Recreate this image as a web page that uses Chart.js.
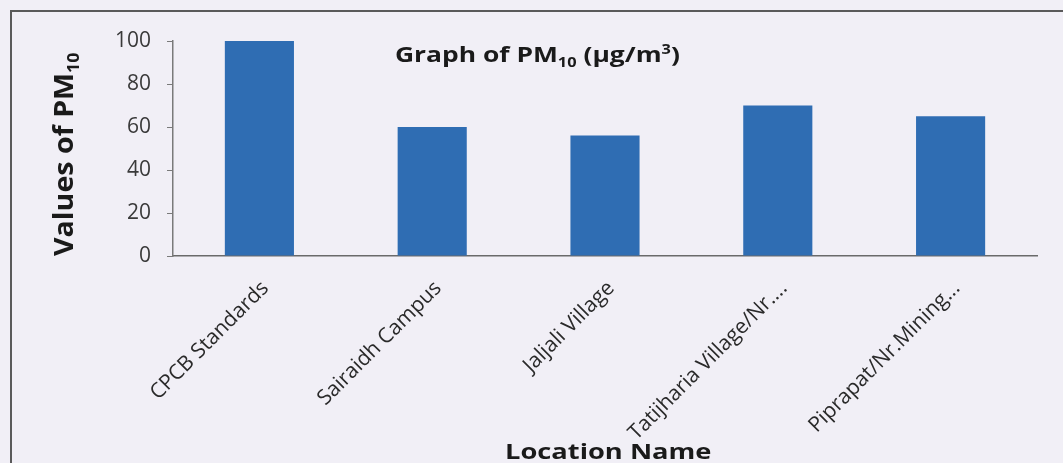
<!DOCTYPE html>
<html>
<head>
<meta charset="utf-8">
<script src="https://cdn.jsdelivr.net/npm/chart.js@4.4.1/dist/chart.umd.min.js"></script>
<style>
    html, body {
        margin: 0;
        padding: 0;
        background: #f1eff6;
    }
    #wrap {
        position: relative;
        width: 1063px;
        height: 463px;
        overflow: hidden;
        font-family: "Open Sans", sans-serif;
    }
    #frame {
        position: absolute;
        left: 10px;
        top: 10px;
        width: 1070px;
        height: 470px;
        border-left: 2px solid #5a5a5a;
        border-top: 2px solid #5a5a5a;
    }
    .txt {
        position: absolute;
        font-weight: 700;
        color: #1a1a1a;
        white-space: nowrap;
        transform-origin: left top;
    }
    .txt sub, .txt sup {
        font-size: 62%;
        line-height: 0;
    }
    #title {
        left: 395px;
        top: 38px;
        font-size: 22px;
        transform: scaleX(1.2);
    }
    #ytitle {
        left: 45px;
        top: 256px;
        font-size: 26px;
        transform: rotate(-90deg) scaleX(1.1);
    }
    #xtitle {
        left: 505px;
        top: 435px;
        font-size: 22px;
        transform: scaleX(1.24);
    }
</style>
</head>
<body>
<div id="wrap">
    <canvas id="chart" width="1063" height="463"></canvas>
    <div id="frame"></div>
    <div class="txt" id="title">Graph of PM<sub>10</sub> (&micro;g/m<sup>3</sup>)</div>
    <div class="txt" id="ytitle">Values of PM<sub>10</sub></div>
    <div class="txt" id="xtitle">Location Name</div>
</div>
<script>
    // PM10 values
    const locations = ['CPCB Standards', 'Sairaidh Campus', 'Jaljali Village', 'Tatijharia Village/Nr....', 'Piprapat/Nr.Mining...'];
    const pm10 = [100, 60, 56, 70, 65];
    const yTicks = [0, 20, 40, 60, 80, 100];

    new Chart(document.getElementById('chart'), {
        type: 'bar',
        data: {
            labels: locations,
            datasets: [{
                label: 'PM10',
                data: pm10,
                backgroundColor: '#2f6db3',
                borderWidth: 0,
                barPercentage: 0.4,
                categoryPercentage: 1.0
            }]
        },
        options: {
            responsive: false,
            animation: false,
            layout: {
                padding: { left: 0, right: 26, top: 41, bottom: 0 }
            },
            plugins: {
                legend: { display: false },
                tooltip: { enabled: false }
            },
            scales: {
                x: {
                    grid: { display: false },
                    border: { display: true, color: '#6a6a6a', width: 1.5 },
                    ticks: {
                        color: '#2a2a2a',
                        font: { family: 'Open Sans', size: 21 },
                        minRotation: 45,
                        maxRotation: 45,
                        autoSkip: false,
                        padding: 12,
                        labelOffset: 6
                    },
                    afterFit: (scale) => { scale.height = 463 - 256; }
                },
                y: {
                    min: 0,
                    max: 100,
                    afterBuildTicks: (scale) => {
                        scale.ticks = yTicks.map(v => ({ value: v }));
                    },
                    grid: {
                        drawOnChartArea: false,
                        drawTicks: true,
                        tickLength: 6,
                        color: '#7a7a7a'
                    },
                    border: { display: true, color: '#7a7a7a', width: 1.5 },
                    ticks: {
                        color: '#3a3a3a',
                        font: { family: 'Open Sans', size: 21 },
                        padding: 16
                    },
                    afterFit: (scale) => { scale.width = 173; }
                }
            }
        }
    });
</script>
</body>
</html>
